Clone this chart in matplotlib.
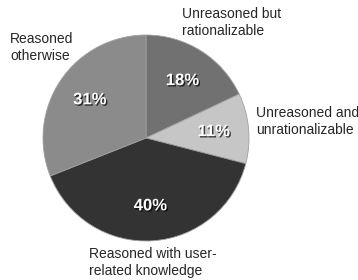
import matplotlib
matplotlib.use("Agg")
import matplotlib.pyplot as plt
import matplotlib.patheffects as pe

plt.rcParams["font.family"] = ["Liberation Sans", "DejaVu Sans"]

# slices in clockwise order starting from the top
labels = ["Unreasoned but\nrationalizable", "Unreasoned and\nunrationalizable",
          "Reasoned with user-\nrelated knowledge", "Reasoned\notherwise"]
shares = [18, 11, 40, 31]
colors = ["#717171", "#c6c6c6", "#333333", "#8b8b8b"]

fig = plt.figure(figsize=(3.58, 2.80), dpi=100)
ax = fig.add_axes([43 / 358, 39 / 280, 206 / 358, 206 / 280])

wedges, texts, autotexts = ax.pie(
    shares, colors=colors, startangle=90, counterclock=False,
    autopct="%d%%", pctdistance=0.66,
    wedgeprops=dict(linewidth=0.6, edgecolor="#a0a0a0"),
    textprops=dict(color="white", fontsize=12, fontweight="bold"))
ax.set_aspect("equal")
ax.set_xlim(-1.0, 1.0)
ax.set_ylim(-1.0, 1.0)

shadow = [pe.SimplePatchShadow(offset=(1, -1), shadow_rgbFace="black", alpha=0.7), pe.Normal()]
for t in autotexts:
    t.set_path_effects(shadow)

label_pos = [(182, 7), (256, 106), (89, 247), (10, 32)]
for txt, (px, py) in zip(labels, label_pos):
    fig.text(px / 358, 1 - py / 280, txt, fontsize=10, color="#262626",
             ha="left", va="top", linespacing=1.3)

fig.savefig("out.png", dpi=100)
